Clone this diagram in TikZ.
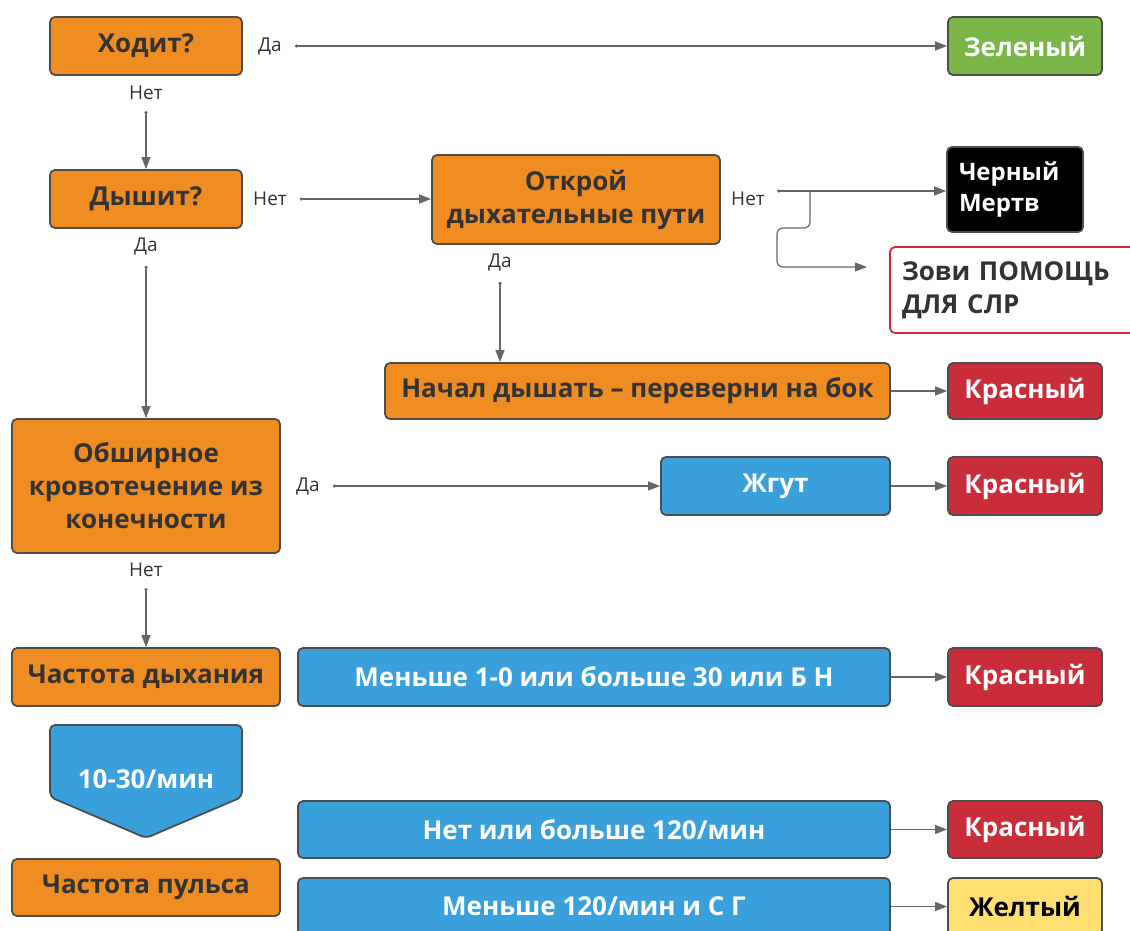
\documentclass[tikz,border=0pt]{standalone}
\usepackage{fontspec}
\setmainfont{Open Sans}
\usetikzlibrary{arrows.meta}
\definecolor{orng}{HTML}{EF8D22}
\definecolor{blu}{HTML}{3AA0DC}
\definecolor{rd}{HTML}{C92D39}
\definecolor{grn}{HTML}{7AB648}
\definecolor{ylw}{HTML}{FFDF71}
\definecolor{edge}{HTML}{4D4D4D}
\definecolor{txt}{HTML}{333333}
\definecolor{lnc}{HTML}{666666}
\tikzset{
  box/.style={draw=edge, line width=1.8pt, rounded corners=5pt, inner sep=0pt, align=center,
    font=\bfseries\fontsize{26}{33}\selectfont},
  obox/.style={box, fill=orng, text=txt},
  bbox/.style={box, fill=blu, text=white},
  rbox/.style={box, fill=rd, text=white},
  lbl/.style={font=\fontsize{19}{22}\selectfont, text=txt, inner sep=1pt},
  conn/.style={draw=lnc, line width=1.2pt, {Circle[length=3pt]}-{Triangle[length=12pt,width=9pt]}},
  plain/.style={draw=lnc, line width=1.2pt, -{Triangle[length=12pt,width=9pt]}},
}
\begin{document}
\begin{tikzpicture}[x=1pt,y=-1pt]
\useasboundingbox (0,0) rectangle (1130,931);
\clip (0,0) rectangle (1130,931);
\fill[white] (0,0) rectangle (1130,931);
% left column
\node[obox, minimum width=192pt, minimum height=58pt] (hodit) at (146,46) {Ходит?};
\node[lbl] (l1) at (270,46) {Да};
\node[box, fill=grn, text=white, minimum width=154pt, minimum height=58pt] (green) at (1025,46) {Зеленый};
\node[lbl] (l2) at (146,93) {Нет};
\node[obox, minimum width=192pt, minimum height=58pt] (dyshit) at (146,199) {Дышит?};
\node[lbl] (l3) at (270,199) {Нет};
\node[obox, minimum width=288pt, minimum height=89pt] (otkr) at (576,199.5) {Открой\\дыхательные пути};
\node[lbl] (l4) at (748,199) {Нет};
\coordinate (nstart) at (777,191);
\node[box, fill=black, text=white, align=left, inner xsep=12pt, text width=112pt, minimum height=85pt, font=\bfseries\fontsize{24}{31}\selectfont] (black) at (1015,189.5) {Черный\\Мертв};
\node[box, draw=rd, fill=white, text=txt, align=left, inner xsep=12pt, text width=225pt, minimum height=86pt] (help) at (1014.5,290) {Зови ПОМОЩЬ\\ДЛЯ СЛР};
\node[lbl] (l5) at (500,262) {Да};
\node[obox, minimum width=505pt, minimum height=56pt] (nachal) at (637.5,391) {Начал дышать – переверни на бок};
\node[rbox, minimum width=154pt, minimum height=56pt] (red1) at (1025,391) {Красный};
\node[lbl] (l6) at (146,246) {Да};
\node[obox, minimum width=268pt, minimum height=134pt] (krov) at (146,486) {Обширное\\кровотечение из\\конечности};
\node[lbl] (l7) at (308,486) {Да};
\node[bbox, minimum width=229pt, minimum height=58pt] (zhgut) at (775.5,486) {Жгут};
\node[rbox, minimum width=154pt, minimum height=58pt] (red2) at (1025,486) {Красный};
\node[lbl] (l8) at (146,570) {Нет};
\node[obox, minimum width=268pt, minimum height=58pt] (chd) at (146,677) {Частота дыхания};
\node[bbox, minimum width=592pt, minimum height=58pt] (men) at (594,677) {Меньше 1-0 или больше 30 или Б Н};
\node[rbox, minimum width=154pt, minimum height=58pt] (red3) at (1025,677) {Красный};
% pentagon
\draw[draw=edge, fill=blu, line width=1.8pt, rounded corners=5pt]
  (50,725) -- (242,725) -- (242,797) -- (146,838) -- (50,797) -- cycle;
\node[font=\bfseries\fontsize{26}{30}\selectfont, text=white] (pent) at (146,779) {10-30/мин};
\node[obox, minimum width=268pt, minimum height=57pt] (chp) at (146,887.5) {Частота пульса};
\node[bbox, minimum width=592pt, minimum height=57pt] (net120) at (594,829.5) {Нет или больше 120/мин};
\node[rbox, minimum width=154pt, minimum height=57pt] (red4) at (1025,829.5) {Красный};
\node[bbox, minimum width=592pt, minimum height=57pt] (men120) at (594,906.5) {Меньше 120/мин и С Г};
\node[box, fill=ylw, text=black, minimum width=154pt, minimum height=57pt] (yel) at (1025,906.5) {Желтый};
% connectors
\draw[conn] ([xshift=12pt]l1.east) -- (green.west);
\draw[conn] ([yshift=-10pt]l2.south) -- (dyshit.north);
\draw[conn] ([xshift=12pt]l3.east) -- (otkr.west |- l3.east);
\draw[conn] (nstart) -- (black.west |- nstart);
\draw[plain, rounded corners=6pt]
  (810,191) -- (810,228) -- (777,228) -- (777,267) -- (867,267);
\draw[conn] ([yshift=-10pt]l5.south) -- (nachal.north -| l5.south);
\draw[plain] (nachal.east) -- (red1.west);
\draw[conn] ([yshift=-10pt]l6.south) -- (krov.north);
\draw[conn] ([xshift=12pt]l7.east) -- (zhgut.west);
\draw[plain] (zhgut.east) -- (red2.west);
\draw[conn] ([yshift=-10pt]l8.south) -- (chd.north);
\draw[plain] (men.east) -- (red3.west);
\draw[plain] (net120.east) -- (red4.west);
\draw[plain] (men120.east) -- (yel.west);
\end{tikzpicture}
\end{document}
